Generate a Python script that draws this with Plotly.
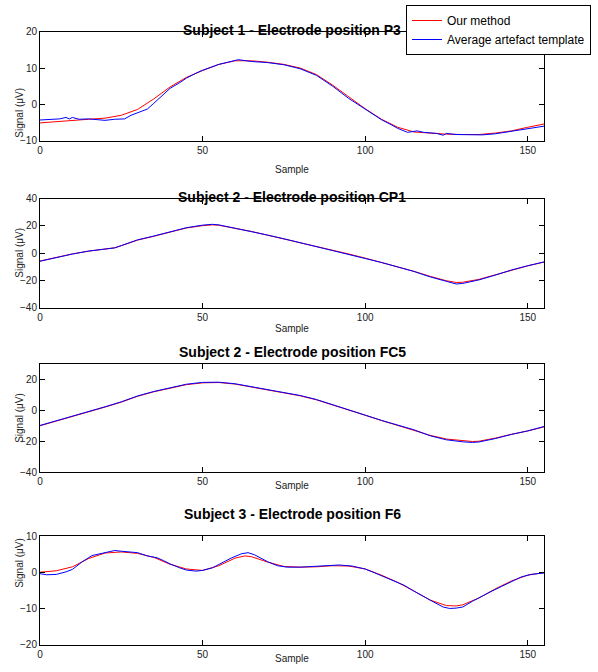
import plotly.graph_objects as go

# ---------------- data ----------------
titles = ["Subject 1 - Electrode position P3",
          "Subject 2 - Electrode position CP1",
          "Subject 2 - Electrode position FC5",
          "Subject 3 - Electrode position F6"]
series_names = ["Our method", "Average artefact template"]

y_ranges = [[-10, 20], [-40, 40], [-40, 30], [-20, 10]]
y_ticks = [[-10, 0, 10, 20], [-40, -20, 0, 20, 40], [-40, -20, 0, 20], [-20, -10, 0, 10]]
x_ticks = [0, 50, 100, 150]

# Subplot 1
s1_red_x = [0, 5, 10, 15, 20, 25, 30, 35, 40, 45, 50, 55, 60, 65, 70, 75, 80, 85, 90, 95, 100,
            105, 110, 115, 120, 125, 130, 135, 140, 145, 150, 155]
s1_red_y = [-5.1, -4.7, -4.4, -4.1, -3.8, -3.0, -1.4, 1.5, 4.8, 7.4, 9.3, 11.0, 12.0, 12.0, 11.6,
            11.0, 10.0, 8.2, 5.3, 2.0, -1.2, -4.1, -6.3, -7.6, -8.0, -8.2, -8.3, -8.3, -7.9, -7.3,
            -6.3, -5.4]
s1_blue_x = [0, 3, 6, 8, 9, 10, 12, 15, 18, 20, 23, 26, 28, 30, 33, 35, 38, 40, 43, 45, 48, 50,
             55, 60, 61, 65, 70, 75, 80, 85, 90, 95, 100, 103, 105, 108, 110, 113, 116, 118, 122,
             124, 125, 128, 132, 136, 140, 145, 150, 153, 155]
s1_blue_y = [-4.3, -4.2, -4.0, -3.6, -4.0, -3.6, -4.1, -4.0, -4.3, -4.4, -4.1, -4.0, -3.0, -2.4,
             -1.3, 0.3, 2.6, 4.4, 6.0, 7.2, 8.6, 9.4, 11.0, 12.1, 12.3, 11.8, 11.5, 10.9, 9.8, 8.0,
             5.0, 1.6, -1.4, -3.2, -4.2, -5.6, -6.6, -7.7, -7.3, -7.7, -8.0, -8.5, -8.0, -8.3,
             -8.4, -8.4, -8.1, -7.4, -6.6, -6.3, -6.0]

# Subplot 2
s2_red_x = [0, 5, 10, 15, 20, 23, 25, 30, 35, 40, 45, 50, 53, 55, 60, 65, 70, 75, 80, 85, 90, 95,
            100, 105, 110, 115, 120, 125, 128, 130, 135, 140, 145, 150, 155]
s2_red_y = [-5.7, -3.0, -0.5, 1.5, 3.2, 4.0, 5.5, 9.6, 12.4, 15.6, 18.5, 20.2, 20.8, 20.5, 18.3,
            16.0, 13.2, 10.5, 7.6, 4.9, 2.2, -0.6, -3.6, -6.7, -10.0, -13.3, -17.0, -20.2, -21.5,
            -21.3, -19.2, -16.0, -12.3, -9.3, -6.5]
s2_blue_x = [0, 5, 10, 15, 20, 23, 25, 30, 35, 40, 45, 50, 53, 55, 60, 65, 70, 75, 80, 85, 90, 95,
             100, 105, 110, 115, 120, 125, 128, 130, 135, 140, 145, 150, 155]
s2_blue_y = [-5.9, -3.1, -0.6, 1.6, 3.3, 3.9, 5.6, 9.8, 12.6, 15.8, 18.7, 20.6, 21.2, 20.8, 18.4,
             16.0, 13.3, 10.6, 7.7, 5.0, 2.3, -0.6, -3.7, -6.8, -10.1, -13.4, -17.4, -21.0, -22.6,
             -22.2, -19.6, -16.1, -12.3, -9.2, -6.4]

# Subplot 3
s3_red_x = [0, 5, 10, 15, 20, 25, 30, 35, 40, 45, 50, 55, 60, 65, 70, 75, 80, 85, 90, 95, 100,
            105, 110, 115, 120, 125, 130, 133, 135, 140, 145, 150, 155]
s3_red_y = [-9.8, -6.8, -4.0, -0.8, 2.3, 5.5, 9.3, 12.2, 14.5, 16.8, 18.0, 18.2, 17.2, 15.4, 13.6,
            11.6, 9.6, 7.0, 3.8, 0.2, -3.0, -6.4, -9.6, -12.3, -16.0, -18.4, -19.6, -20.0, -19.8,
            -17.8, -15.3, -13.2, -10.5]
s3_blue_x = [0, 5, 10, 15, 20, 25, 30, 35, 40, 45, 50, 55, 60, 65, 70, 75, 80, 85, 90, 95, 100,
             105, 110, 115, 120, 125, 130, 133, 135, 140, 145, 150, 155]
s3_blue_y = [-9.6, -6.6, -3.8, -0.6, 2.5, 5.7, 9.5, 12.4, 14.7, 17.1, 18.3, 18.4, 17.4, 15.6, 13.8,
             11.8, 9.8, 7.2, 4.0, 0.3, -2.9, -6.3, -9.5, -12.4, -16.3, -18.9, -20.2, -20.6, -20.3,
             -18.1, -15.4, -13.1, -10.3]

# Subplot 4
s4_red_x = [0, 5, 10, 15, 20, 25, 30, 35, 40, 45, 50, 55, 60, 63, 65, 70, 75, 80, 85, 90, 95, 100,
            105, 110, 115, 120, 125, 128, 130, 135, 140, 145, 150, 155]
s4_red_y = [0.0, 0.4, 1.5, 3.8, 5.3, 5.6, 5.2, 4.1, 2.2, 0.9, 0.5, 1.8, 3.9, 4.5, 4.3, 2.8, 1.6,
            1.4, 1.5, 1.8, 1.7, 0.9, -0.8, -2.8, -5.2, -7.7, -9.2, -9.3, -9.0, -7.1, -4.6, -2.4,
            -0.8, -0.1]
s4_blue_x = [0, 2, 5, 8, 10, 13, 16, 18, 20, 23, 25, 28, 30, 33, 36, 38, 40, 43, 45, 48, 50, 53,
             56, 59, 62, 64, 66, 68, 70, 73, 76, 80, 84, 88, 92, 96, 100, 103, 106, 109, 112, 115,
             118, 121, 124, 126, 128, 130, 133, 136, 139, 142, 145, 148, 151, 155]
s4_blue_y = [-0.4, -0.7, -0.6, 0.1, 0.8, 2.9, 4.6, 5.0, 5.2, 6.0, 5.8, 5.6, 5.4, 4.5, 4.0, 3.2,
             2.3, 1.2, 0.6, 0.3, 0.5, 1.2, 2.6, 4.0, 5.1, 5.4, 4.8, 3.9, 2.9, 1.8, 1.4, 1.4, 1.6,
             1.9, 2.0, 1.7, 0.9, -0.2, -1.3, -2.5, -3.6, -5.2, -6.8, -8.2, -9.6, -10.0, -9.9, -9.6,
             -8.0, -6.5, -5.2, -3.9, -2.5, -1.3, -0.6, -0.2]

red_sets = [(s1_red_x, s1_red_y), (s2_red_x, s2_red_y), (s3_red_x, s3_red_y), (s4_red_x, s4_red_y)]
blue_sets = [(s1_blue_x, s1_blue_y), (s2_blue_x, s2_blue_y), (s3_blue_x, s3_blue_y),
             (s4_blue_x, s4_blue_y)]

# ---------------- layout ----------------
W, H = 598, 672
FONT = "Liberation Sans, Arial, sans-serif"
x_dom = [40 / W, 544 / W]
# (top px, bottom px) of each plot area
plot_px = [(31.7, 140.7), (198.7, 307.7), (364.3, 472.4), (536.0, 644.7)]

fig = go.Figure()
for i in range(4):
    ax = "" if i == 0 else str(i + 1)
    rx, ry = red_sets[i]
    bx, by = blue_sets[i]
    fig.add_trace(go.Scatter(x=rx, y=ry, mode="lines", line=dict(color="#ff0000", width=1),
                             name=series_names[0], showlegend=(i == 0),
                             xaxis="x" + ax, yaxis="y" + ax))
    fig.add_trace(go.Scatter(x=bx, y=by, mode="lines", line=dict(color="#0000ff", width=1),
                             name=series_names[1], showlegend=(i == 0),
                             xaxis="x" + ax, yaxis="y" + ax))

layout = dict(
    width=W, height=H, margin=dict(l=0, r=0, t=0, b=0, autoexpand=False),
    paper_bgcolor="white", plot_bgcolor="white",
    font=dict(family=FONT, size=10, color="#222"),
    showlegend=True,
    legend=dict(x=406 / W, y=1 - 5 / H, xanchor="left", yanchor="top",
                bgcolor="white", bordercolor="black", borderwidth=1,
                font=dict(family=FONT, size=12, color="black"),
                tracegroupgap=0, itemwidth=30),
)
annotations = []
for i in range(4):
    top, bot = plot_px[i]
    ydom = [1 - bot / H, 1 - top / H]
    ax = "" if i == 0 else str(i + 1)
    common = dict(showline=True, linecolor="black", linewidth=1, mirror="ticks",
                  ticks="inside", ticklen=5, tickcolor="black", showgrid=False,
                  zeroline=False, automargin=False,
                  tickfont=dict(family=FONT, size=10, color="#222"))
    layout["xaxis" + ax] = dict(domain=x_dom, range=[0, 155], tickvals=x_ticks,
                                anchor="y" + ax, **common)
    layout["yaxis" + ax] = dict(domain=ydom, range=y_ranges[i], tickvals=y_ticks[i],
                                anchor="x" + ax, **common)
    annotations.append(dict(text="<b>" + titles[i] + "</b>", x=292 / W, y=1 - (top - 12) / H,
                            xref="paper", yref="paper", showarrow=False,
                            font=dict(family=FONT, size=14, color="black")))
    annotations.append(dict(text="Sample", x=292 / W, y=1 - (bot + 21) / H,
                            xref="paper", yref="paper", showarrow=False,
                            font=dict(family=FONT, size=10, color="#222")))
    annotations.append(dict(text="Signal (\u03bcV)", x=12 / W, y=1 - ((top + bot) / 2) / H,
                            xref="paper", yref="paper", showarrow=False, textangle=-90,
                            font=dict(family=FONT, size=10, color="#222")))
layout["annotations"] = annotations
fig.update_layout(**layout)
fig.write_html("out.html", config={"displayModeBar": False},
               post_script="document.body.style.margin='0px';document.body.style.padding='0px';")
